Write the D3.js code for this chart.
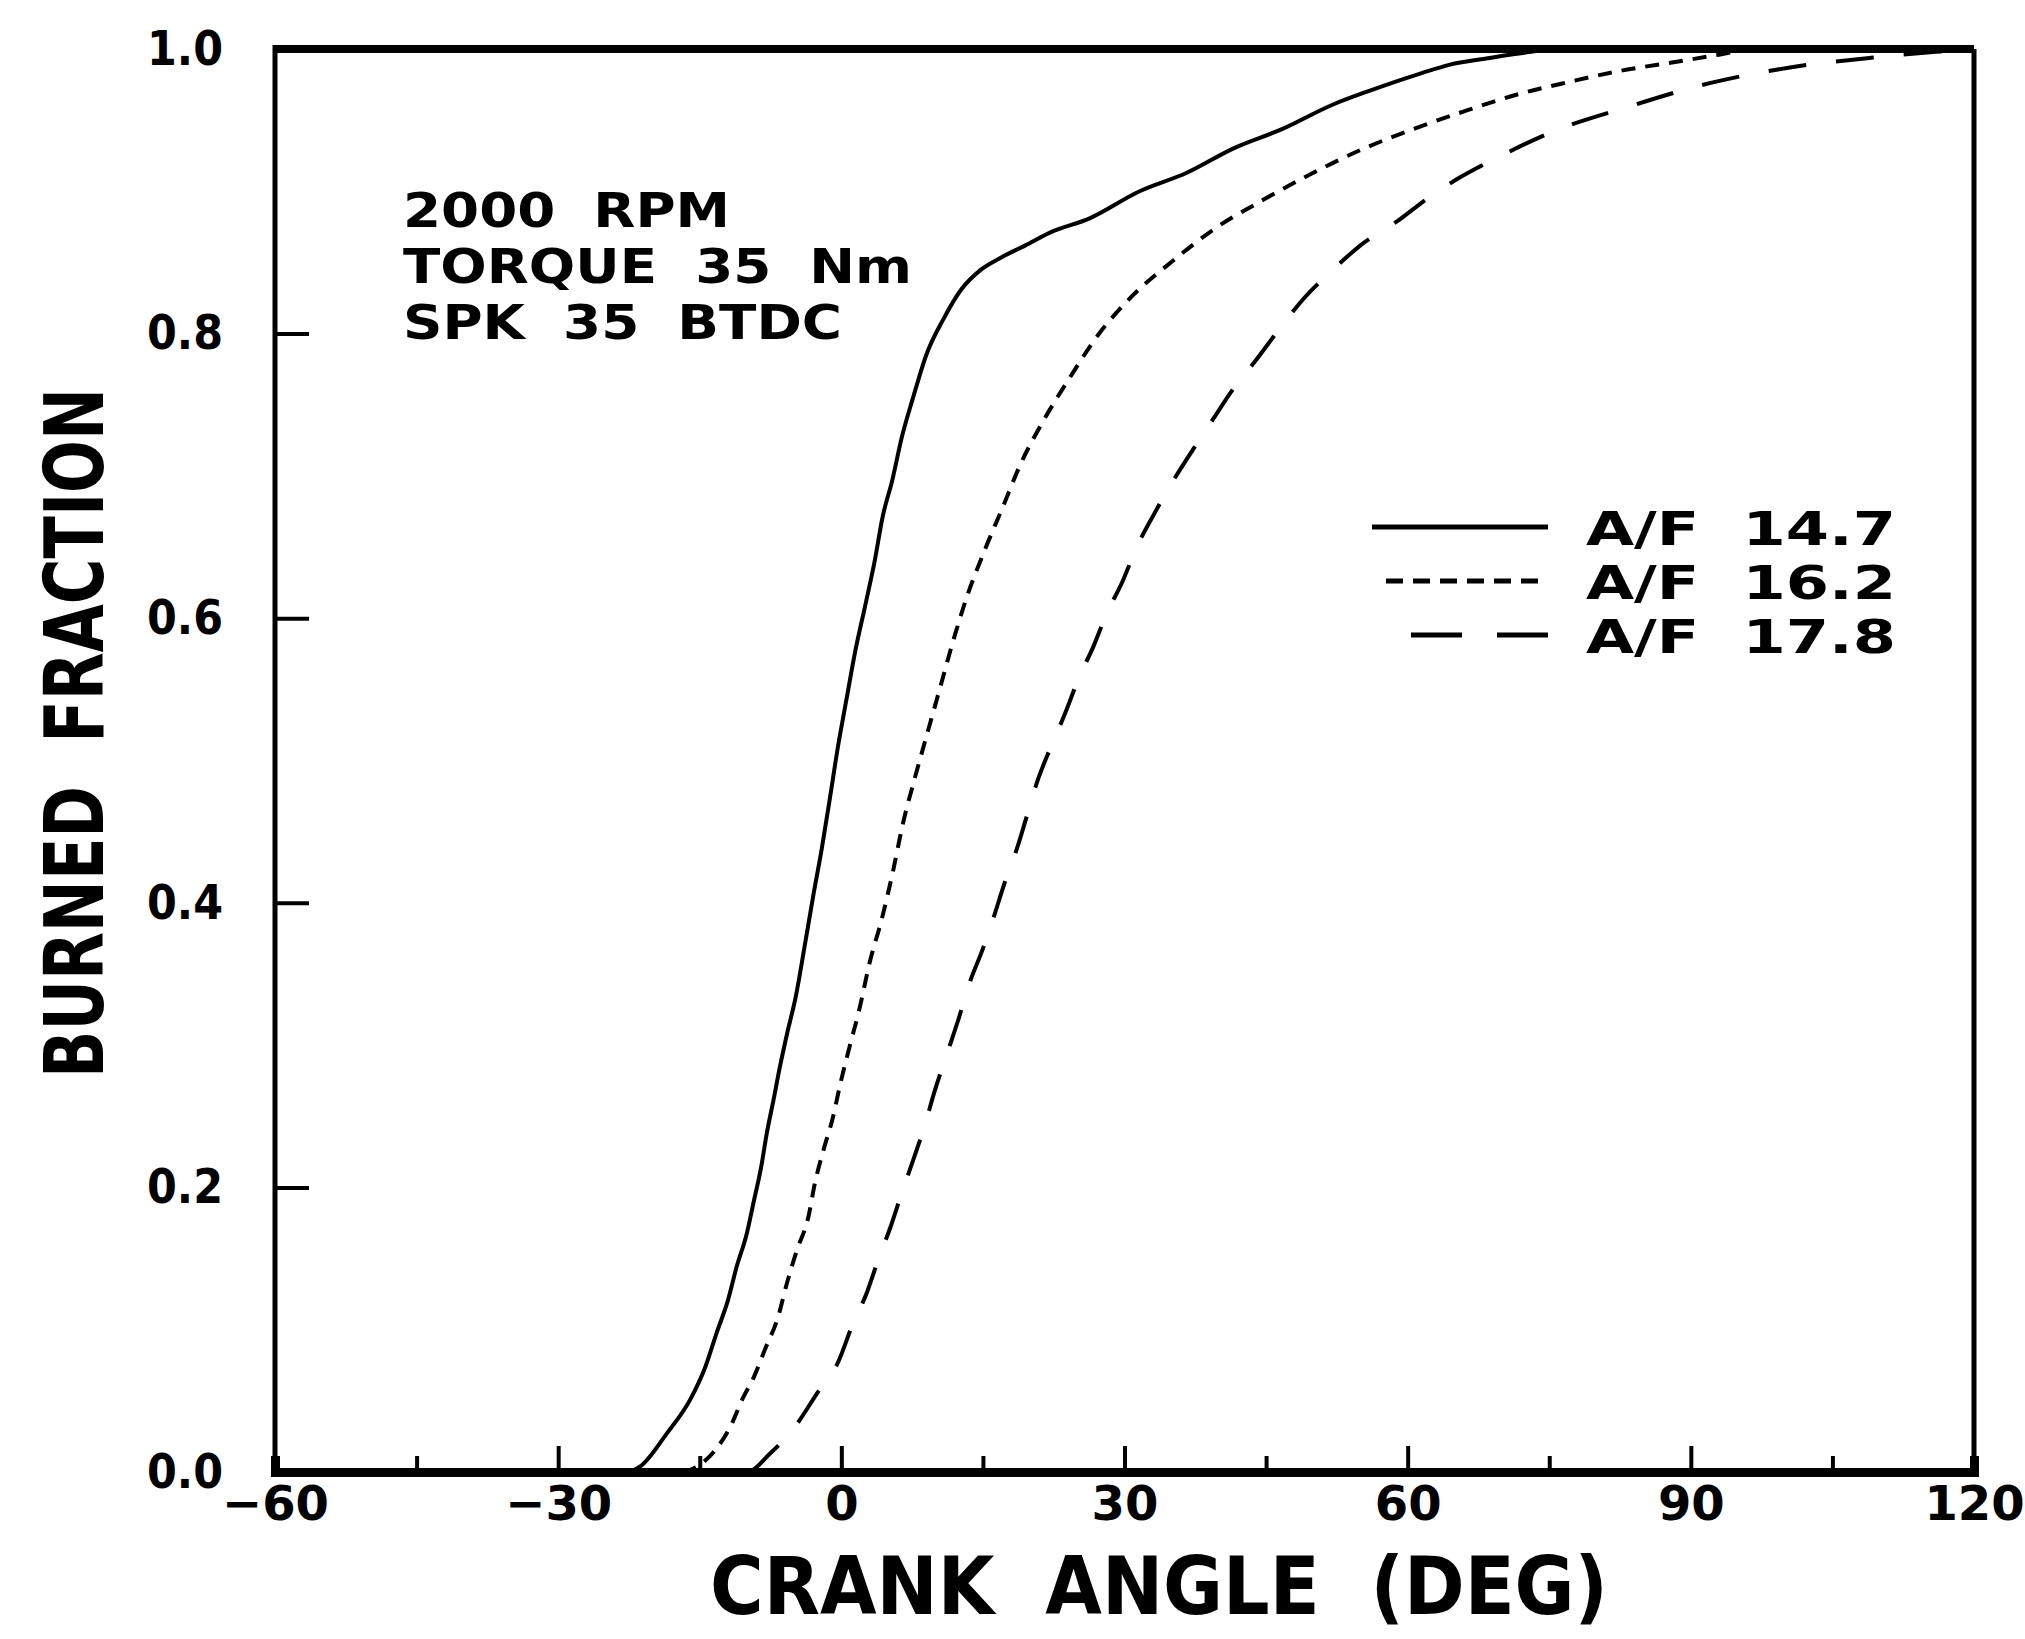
<!DOCTYPE html>
<html>
<head>
<meta charset="utf-8">
<script src="https://cdn.jsdelivr.net/npm/d3@7"></script>
<style>
  body { margin: 0; background: #fff; }
  text { font-family: "DejaVu Sans", sans-serif; font-weight: bold; fill: #000; white-space: pre; }
</style>
</head>
<body>
<svg id="chart"></svg>
<script>
// burned fraction vs crank angle
const af147 = [[-60,0],[-23,0],[-21.3,0.004],[-18.5,0.027],[-16.0,0.051],[-14.4,0.074],[-13.2,0.098],[-12.0,0.121],
  [-11.1,0.144],[-10.0,0.168],[-9.25,0.191],[-8.5,0.214],[-7.9,0.238],[-7.2,0.261],[-6.5,0.285],[-5.75,0.308],
  [-4.8,0.335],[-3.9,0.369],[-3.0,0.404],[-2.05,0.439],[-1.2,0.474],[-0.35,0.510],[0.6,0.545],[1.45,0.576],
  [2.5,0.608],[3.5,0.639],[4.4,0.672],[5.4,0.697],[6.4,0.727],[7.6,0.755],[9.0,0.785],[10.8,0.810],[12.7,0.831],
  [14.8,0.845],[16.8,0.853],[19.5,0.862],[22.1,0.871],[26.3,0.881],[31.6,0.900],[36.6,0.913],[41.5,0.930],
  [46.8,0.944],[52.1,0.961],[55.7,0.970],[61.0,0.982],[64.5,0.989],[68.0,0.993],[72,0.997],[76,1.0],[120,1.0]];
const af162 = [[-60,0],[-17,0],[-15,0.005],[-13.4,0.015],[-11.6,0.034],[-10.5,0.051],[-9.25,0.067],[-8.1,0.086],
  [-6.7,0.109],[-5.75,0.133],[-4.7,0.156],[-3.5,0.179],[-2.8,0.203],[-1.9,0.226],[-0.9,0.249],[-0.1,0.273],
  [0.8,0.297],[1.9,0.325],[3.0,0.358],[4.3,0.389],[5.5,0.423],[6.5,0.455],[7.8,0.488],[9.1,0.519],[10.5,0.552],
  [11.8,0.583],[13.3,0.615],[15.2,0.648],[17.1,0.678],[18.9,0.707],[21.6,0.741],[24.2,0.769],[27.2,0.799],
  [30.9,0.827],[35.1,0.851],[39.4,0.873],[44.7,0.894],[49.7,0.912],[55.0,0.929],[60.3,0.943],[65.9,0.956],
  [71.6,0.968],[77.2,0.977],[82.8,0.985],[88.5,0.991],[93,0.996],[97,1.0],[120,1.0]];
const af178 = [[-60,0],[-10,0],[-7.55,0.013],[-4.9,0.032],[-2.5,0.056],[-0.35,0.077],[1.1,0.102],[2.7,0.126],
  [3.9,0.149],[5.2,0.172],[6.5,0.198],[7.6,0.219],[8.9,0.245],[9.9,0.268],[11.2,0.294],[12.4,0.318],[13.6,0.344],
  [14.9,0.366],[16.1,0.389],[17.3,0.414],[18.6,0.438],[19.7,0.462],[20.8,0.486],[22.1,0.508],[23.7,0.533],
  [25.1,0.557],[26.7,0.580],[28.1,0.603],[29.8,0.626],[31.3,0.650],[33.2,0.674],[35.1,0.696],[37.3,0.719],
  [39.4,0.740],[41.5,0.761],[44.0,0.782],[46.5,0.804],[48.9,0.824],[52.1,0.845],[55.0,0.862],[58.9,0.879],
  [62.1,0.895],[65.6,0.910],[69.6,0.924],[75.4,0.942],[83.2,0.959],[92.0,0.976],[100.5,0.987],[109.3,0.994],
  [116,0.998],[120,1.0]];

const seriesNames = ["A/F  14.7", "A/F  16.2", "A/F  17.8"];
const xTicks = [-45, -30, -15, 0, 15, 30, 45, 60, 75, 90, 105];
const xLabels = [-60, -30, 0, 30, 60, 90, 120];
const yLabels = [0, 0.2, 0.4, 0.6, 0.8, 1.0];
const noteLines = ["2000  RPM", "TORQUE  35  Nm", "SPK  35  BTDC"];

const width = 2025, height = 1639;
const margin = {top: 49, right: 51, bottom: 167, left: 275};

const svg = d3.select("#chart").attr("width", width).attr("height", height);
svg.append("rect").attr("width", width).attr("height", height).attr("fill", "#fff");

const x = d3.scaleLinear().domain([-60, 120]).range([margin.left, width - margin.right]);
const y = d3.scaleLinear().domain([0, 1]).range([height - margin.bottom, margin.top]);

// frame
const frame = svg.append("g").attr("stroke", "#000").attr("fill", "none");
frame.append("line").attr("x1", x(-60)).attr("x2", x(120)).attr("y1", y(1)).attr("y2", y(1)).attr("stroke-width", 8);
frame.append("line").attr("x1", x(120)).attr("x2", x(120)).attr("y1", y(1)).attr("y2", y(0)).attr("stroke-width", 5);
frame.append("line").attr("x1", x(-60)).attr("x2", x(-60)).attr("y1", y(1) - 4).attr("y2", y(0)).attr("stroke-width", 5);

// x axis
const xAxis = svg.append("g")
  .attr("transform", `translate(0,${y(0)})`)
  .call(d3.axisBottom(x).tickValues(xTicks).tickSize(-16).tickFormat(""));
xAxis.select(".domain").attr("stroke-width", 9);
xAxis.selectAll(".tick line").attr("stroke-width", 4)
  .attr("y2", d => d % 30 === 0 ? -26 : -16);

svg.append("g")
  .attr("transform", `translate(0,${y(0)})`)
  .call(d3.axisBottom(x).tickValues(xLabels).tickSize(0).tickPadding(14))
  .call(g => g.select(".domain").remove())
  .selectAll("text").attr("font-size", 48).attr("dy", "0.71em");

// y axis
const yAxis = svg.append("g")
  .attr("transform", `translate(${x(-60)},0)`)
  .call(d3.axisLeft(y).tickValues(yLabels).tickSize(-34).tickPadding(52).tickFormat(d3.format(".1f")));
yAxis.select(".domain").remove();
yAxis.selectAll(".tick line").attr("stroke-width", 4)
  .attr("display", d => (d === 0 || d === 1) ? "none" : null);
yAxis.selectAll("text").attr("font-size", 48)
  .attr("textLength", 76).attr("lengthAdjust", "spacingAndGlyphs");

// curves
const line = d3.line().x(d => x(d[0])).y(d => y(d[1])).curve(d3.curveMonotoneX);
const dashes = [null, "14,10", "38,30"];
[af147, af162, af178].forEach((s, i) => {
  svg.append("path").datum(s)
    .attr("d", line)
    .attr("fill", "none")
    .attr("stroke", "#000")
    .attr("stroke-width", 4)
    .attr("stroke-dasharray", dashes[i]);
});

// legend
const legend = svg.append("g").attr("transform", "translate(1372,527)");
const legendStart = [0, 14, 39];
const legendDash = [null, "17,10", "51,35"];
seriesNames.forEach((name, i) => {
  legend.append("line")
    .attr("x1", legendStart[i]).attr("x2", 176)
    .attr("y1", i * 54).attr("y2", i * 54)
    .attr("stroke", "#000").attr("stroke-width", 5)
    .attr("stroke-dasharray", legendDash[i]);
  legend.append("text")
    .attr("x", 214).attr("y", i * 54 + 18)
    .attr("font-size", 46)
    .attr("textLength", 310).attr("lengthAdjust", "spacingAndGlyphs")
    .text(name);
});

// run conditions
const noteWidths = [327, 509, 439];
noteLines.forEach((t, i) => {
  svg.append("text")
    .attr("x", 403).attr("y", 227 + i * 56)
    .attr("font-size", 48)
    .attr("textLength", noteWidths[i]).attr("lengthAdjust", "spacingAndGlyphs")
    .text(t);
});

// axis titles
svg.append("text")
  .attr("x", 1159).attr("y", 1614)
  .attr("text-anchor", "middle")
  .attr("font-size", 80)
  .attr("textLength", 898).attr("lengthAdjust", "spacingAndGlyphs")
  .text("CRANK  ANGLE  (DEG)");

svg.append("text")
  .attr("transform", "translate(103,733) rotate(-90)")
  .attr("text-anchor", "middle")
  .attr("font-size", 82)
  .attr("textLength", 690).attr("lengthAdjust", "spacingAndGlyphs")
  .text("BURNED  FRACTION");
</script>
</body>
</html>
